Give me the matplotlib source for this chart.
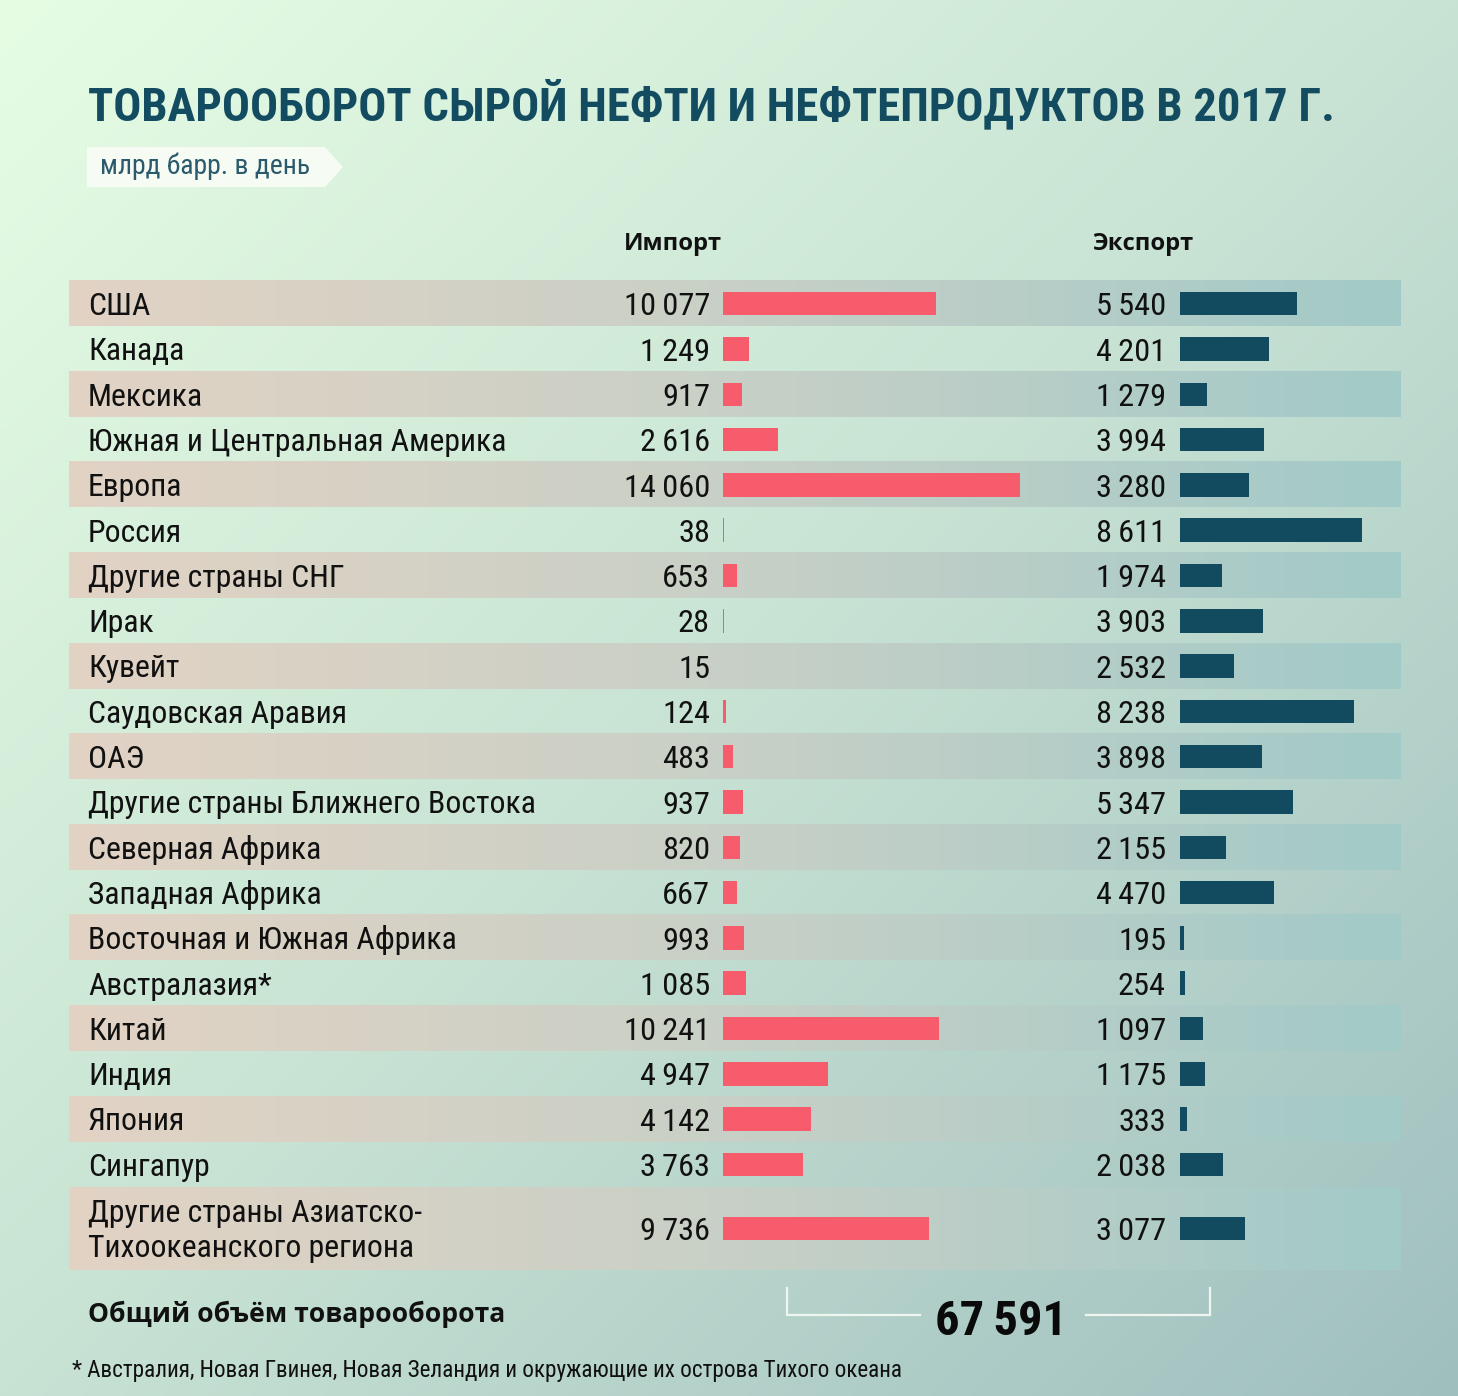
import numpy as np
import matplotlib
matplotlib.use('Agg')
import matplotlib.pyplot as plt
from matplotlib import font_manager as fm
from matplotlib.patches import Polygon

# ---------------- data ----------------
regions = ["США", "Канада", "Мексика", "Южная и Центральная Америка", "Европа",
           "Россия", "Другие страны СНГ", "Ирак", "Кувейт", "Саудовская Аравия",
           "ОАЭ", "Другие страны Ближнего Востока", "Северная Африка",
           "Западная Африка", "Восточная и Южная Африка", "Австралазия*",
           "Китай", "Индия", "Япония", "Сингапур",
           "Другие страны Азиатско-\nТихоокеанского региона"]
imports = [10077, 1249, 917, 2616, 14060, 38, 653, 28, 15, 124, 483, 937, 820,
           667, 993, 1085, 10241, 4947, 4142, 3763, 9736]
exports = [5540, 4201, 1279, 3994, 3280, 8611, 1974, 3903, 2532, 8238, 3898,
           5347, 2155, 4470, 195, 254, 1097, 1175, 333, 2038, 3077]
total = 67591
title = "ТОВАРООБОРОТ СЫРОЙ НЕФТИ И НЕФТЕПРОДУКТОВ В 2017 Г."
unit_label = "млрд барр. в день"
col_import = "Импорт"
col_export = "Экспорт"
total_label = "Общий объём товарооборота"
footnote = "* Австралия, Новая Гвинея, Новая Зеландия и окружающие их острова Тихого океана"

# ---------------- fonts ----------------
flist = fm.fontManager.ttflist
names = {f.name for f in flist}

def wnum(w):
    if isinstance(w, (int, float)):
        return w
    return {'bold': 700, 'heavy': 800, 'black': 900, 'semibold': 600,
            'demibold': 600, 'extra bold': 800}.get(str(w).lower(), 400)

def has_bold(name):
    return any(f.name == name and wnum(f.weight) >= 600 for f in flist)

def first(cands, need_bold=False):
    for c in cands:
        if c in names and (not need_bold or has_bold(c)):
            return c
    return 'DejaVu Sans'

COND = first(['Liberation Sans Narrow', 'Roboto Condensed', 'Open Sans Condensed',
              'Noto Sans Condensed', 'DejaVu Sans Condensed', 'Roboto', 'Noto Sans',
              'DejaVu Sans'])
BOLDF = first(['Open Sans', 'Noto Sans', 'Roboto', 'Lato', 'DejaVu Sans'], need_bold=True)
COND_FAM = [COND, 'DejaVu Sans']
BOLD_FAM = [BOLDF, 'DejaVu Sans']
SP = '\u2009'

W, H = 1458, 1396
fig = plt.figure(figsize=(W / 100, H / 100), dpi=100)
ax = fig.add_axes([0, 0, 1, 1])
ax.set_xlim(0, W)
ax.set_ylim(H, 0)
ax.axis('off')

# ---------------- background gradient ----------------
def hex2rgb(h):
    h = h.lstrip('#')
    return np.array([int(h[i:i + 2], 16) / 255 for i in (0, 2, 4)])

gx, gy = np.meshgrid(np.linspace(0, 1, 300), np.linspace(0, 1, 300))
t = (gx * 0.5 + gy * 0.5)
c0, c1, c2 = hex2rgb('#e6fde4'), hex2rgb('#c8e3d4'), hex2rgb('#9fbfbf')
tt = t[..., None]
bg = np.where(tt < 0.5, c0 + (c1 - c0) * (tt / 0.5), c1 + (c2 - c1) * ((tt - 0.5) / 0.5))
ax.imshow(bg, extent=[0, W, H, 0], aspect='auto', zorder=0, interpolation='bilinear')

# ---------------- rows ----------------
n = len(regions)
unit = 45.3
row_h = [unit * (1.83 if '\n' in r else 1.0) for r in regions]
tops = 281 + np.concatenate([[0], np.cumsum(row_h)[:-1]])
centers = tops + np.array(row_h) / 2

bl, bm, br = hex2rgb('#e2d3c4'), hex2rgb('#c9d0c6'), hex2rgb('#a2cac8')
xs = np.linspace(0, 1, 400)[None, :, None]
band = np.where(xs < 0.48, bl + (bm - bl) * (xs / 0.48), bm + (br - bm) * ((xs - 0.48) / 0.52))
band = np.repeat(band, 2, axis=0)
for i in range(n):
    if i % 2 == 0:
        ax.imshow(band, extent=[69, 1401, tops[i] + row_h[i], tops[i]], aspect='auto',
                  zorder=1, interpolation='bilinear')
ax.set_xlim(0, W)
ax.set_ylim(H, 0)

# ---------------- bars ----------------
scale = 0.02114  # px per unit
imp_max, exp_max = 15000, 9000
ax_imp = fig.add_axes([723 / W, 0, imp_max * scale / W, 1])
ax_exp = fig.add_axes([1180 / W, 0, exp_max * scale / W, 1])
for a, vals, col, vmax in ((ax_imp, imports, '#f65c6c', imp_max),
                           (ax_exp, exports, '#124a60', exp_max)):
    a.set_xlim(0, vmax)
    a.set_ylim(H, 0)
    a.axis('off')
    a.patch.set_alpha(0)
    a.barh(centers, vals, height=23.5, color=col, zorder=3, linewidth=0)

renderer = fig.canvas.get_renderer()

def fit_fs(s, target_w, max_fs, **kw):
    tmp = ax.text(0, 0, s, fontsize=20, **kw)
    w = tmp.get_window_extent(renderer).width
    tmp.remove()
    return min(20 * target_w / w, max_fs)

def fmt(v):
    return f"{v:,}".replace(',', SP)

# labels
fs_lab = fit_fs("Другие страны Ближнего Востока", 448, 23.5, family=COND_FAM)
fs_num = fit_fs(fmt(14060), 86, 23.5, family=COND_FAM)
for i, r in enumerate(regions):
    lines = r.split('\n')
    k = len(lines)
    for j, ln in enumerate(lines):
        yc = centers[i] + (j - (k - 1) / 2) * 35
        ax.text(88, yc + fs_lab * 0.5, ln, family=COND_FAM, fontsize=fs_lab,
                color='#111111', va='baseline', ha='left', zorder=4)
    ax.text(710, centers[i] + fs_num * 0.5, fmt(imports[i]), family=COND_FAM,
            fontsize=fs_num, color='#111111', va='baseline', ha='right', zorder=4)
    ax.text(1166, centers[i] + fs_num * 0.5, fmt(exports[i]), family=COND_FAM,
            fontsize=fs_num, color='#111111', va='baseline', ha='right', zorder=4)

# headers
fs_hdr = fit_fs(col_import, 98, 19, family=BOLD_FAM, weight='bold')
ax.text(673, 250, col_import, family=BOLD_FAM, weight='bold', fontsize=fs_hdr,
        ha='center', va='baseline', color='#111111', zorder=4)
ax.text(1143, 250, col_export, family=BOLD_FAM, weight='bold', fontsize=fs_hdr,
        ha='center', va='baseline', color='#111111', zorder=4)

# title
fs_title = fit_fs(title, 1247, 46, family=COND_FAM, weight='bold')
ax.text(88, 120, title, family=COND_FAM, weight='bold', fontsize=fs_title,
        color='#134b60', ha='left', va='baseline', zorder=4)

# subtitle tag
ax.add_patch(Polygon([[87, 147], [325, 147], [343, 167], [325, 187], [87, 187]],
                     closed=True, facecolor='#f6fbf3', edgecolor='none', zorder=3))
fs_sub = fit_fs(unit_label, 222, 20, family=COND_FAM)
ax.text(100, 174, unit_label, family=COND_FAM, fontsize=fs_sub, color='#2a5a6b',
        ha='left', va='baseline', zorder=4)

# total
fs_tot = fit_fs(total_label, 416, 22, family=BOLD_FAM, weight='bold')
ax.text(88, 1322, total_label, family=BOLD_FAM, weight='bold', fontsize=fs_tot,
        color='#111111', ha='left', va='baseline', zorder=4)
lc = '#eef6ef'
ax.plot([787, 787, 920], [1288, 1315, 1315], color=lc, lw=1.6, zorder=3,
        solid_joinstyle='miter')
ax.plot([1086, 1210, 1210], [1315, 1315, 1288], color=lc, lw=1.6, zorder=3,
        solid_joinstyle='miter')
fs_big = fit_fs(fmt(total), 132, 46, family=COND_FAM, weight='bold')
ax.text(1001, 1335, fmt(total), family=COND_FAM, weight='bold', fontsize=fs_big,
        color='#0a0a0a', ha='center', va='baseline', zorder=4)

# footnote
fs_fn = fit_fs(footnote, 828, 17.5, family=COND_FAM)
ax.text(72, 1377, footnote, family=COND_FAM, fontsize=fs_fn, color='#111111',
        ha='left', va='baseline', zorder=4)

fig.savefig('out.png', dpi=100)
